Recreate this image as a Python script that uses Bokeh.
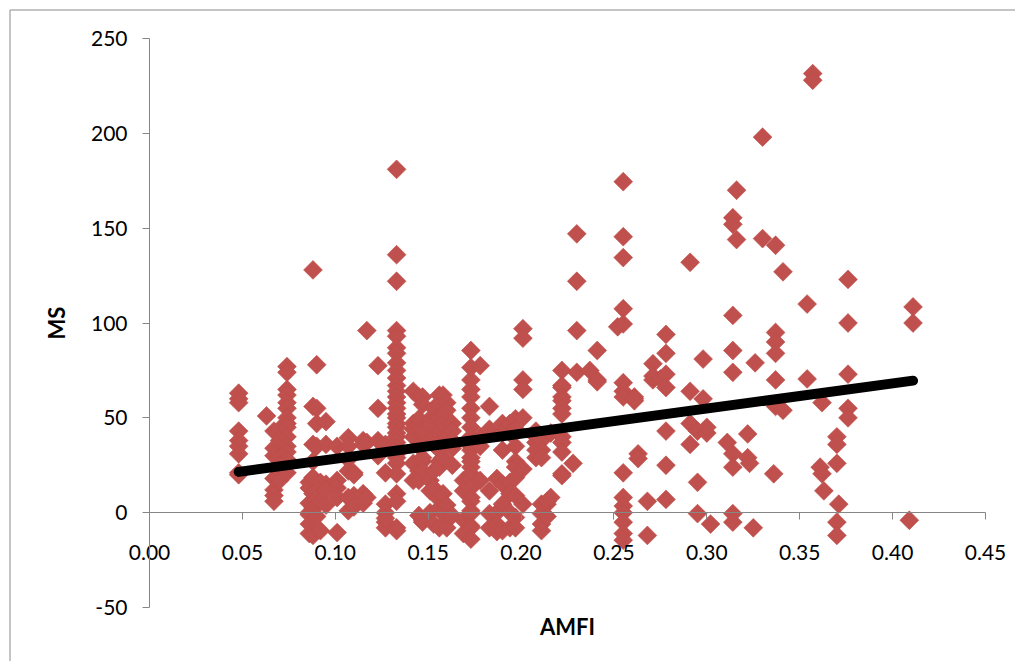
import numpy as np
from bokeh.plotting import figure
from bokeh.models import FixedTicker, NumeralTickFormatter, PrintfTickFormatter, Range1d
from bokeh.embed import file_html
from bokeh.resources import INLINE

# ---- data ----
amfi_levels = [0.048, 0.063, 0.067, 0.070, 0.074, 0.086, 0.088, 0.090, 0.092, 0.095,
               0.101, 0.107, 0.110, 0.115, 0.117, 0.123, 0.127, 0.133, 0.142, 0.145,
               0.147, 0.151, 0.153, 0.156, 0.158, 0.160, 0.163, 0.169, 0.173, 0.178,
               0.183, 0.187, 0.190, 0.194, 0.197, 0.201, 0.208, 0.211, 0.214, 0.216,
               0.222, 0.228, 0.230, 0.237, 0.241, 0.252, 0.255, 0.261, 0.263, 0.268,
               0.271, 0.275, 0.278, 0.291, 0.295, 0.298, 0.300, 0.302, 0.311, 0.314,
               0.316, 0.322, 0.323, 0.325, 0.326, 0.330, 0.336, 0.337, 0.341, 0.354,
               0.357, 0.361, 0.362, 0.363, 0.370, 0.371, 0.376, 0.409, 0.411]

ms_groups = [
    [63, 60, 58, 43, 38, 35, 31, 21, 20],
    [51],
    [43, 34, 30, 18, 12, 9, 6],
    [44, 38, 29, 25, 22, 17],
    [77, 74, 65, 62, 58, 55, 50, 47, 45, 40, 35, 32, 28, 21],
    [16, 13, 5, 0, -1, -6, -11],
    [128, 56, 36, 27, 18.5, 10, 3, -12],
    [78, 55, 47, 35, 7, 4, -2],
    [16, 6, -9.5],
    [48, 36, 15, 4, 12],
    [35, 17, 13, 8, -10.5],
    [39.5, 35, 28, 22, 8, 1],
    [21, 20, 9, 6, 3],
    [38, 36, 10, 5],
    [96, 37, 8],
    [77.5, 55, 38, 30],
    [36, 21, 4.5, 0, -5, -8, -3],
    [181, 136, 122, 96, 93, 87, 84, 79, 75, 71, 67, 64, 61, 58, 55, 52, 50, 47, 45,
     42, 40, 37, 34, 31, 29, 26, 20.5, 10, 6, -8, -9.5],
    [64, 47, 44, 40, 26, 17],
    [61, 49.5, 43, 35, 22, 17, -1.5],
    [61, 57, 43, 27, 29, 22, -5, -4],
    [49.5, 45, 38, 17, 11.5, 0],
    [55, 36, 22, 13, -6],
    [62, 57, 50, 43, 33, 27, 24, 7, 2.5, -8],
    [62, 52, 47, 29, 10, -0.5],
    [58, 54, 40, 4, -8],
    [47, 43, 38, 34, 25, -1.5],
    [17, 11.5, -4, -11],
    [85.5, 76.5, 70, 65, 61, 55, 50, 45, 40, 35, 33, 29, 27, 24, 20.5, 18, 13, 8, 6,
     1, -0.5, -7, -8, -14],
    [77.5, 40, 35, 17],
    [56, 44, 11.5, -0.5, -8],
    [18, 0, -6, -10],
    [47, 42, 33, 15, 4.5, -9.5],
    [47, 42, 16, 10, 0, -8],
    [49.5, 44, 35, 27, 24, 18.5, 9, -2.5, -8],
    [97, 92, 70, 65, 50, 23, 4.5],
    [43, 40, 37, 33, 29],
    [38, 33, 29, 4.5, -0.5, -6, -9.5],
    [4.5, 6, -2],
    [42, 8],
    [75, 67, 66, 61, 59, 55, 52, 40, 37, 32, 20.5, 19.5],
    [26],
    [147, 122, 96, 74],
    [75],
    [85.5, 70, 69],
    [98],
    [174.5, 145.5, 134.5, 107.5, 99.5, 68.5, 64, 61, 21, 8, 3.5, 0, -5, -11, -14.5],
    [61, 59, 60],
    [31, 28.5],
    [6, -12],
    [78.5, 70, 72],
    [70.5],
    [94, 84, 73, 66, 43, 25, 7],
    [132, 64, 47, 36],
    [43, 16, -0.5],
    [81, 60],
    [42, 45],
    [-6],
    [37],
    [155.5, 152, 104, 85.5, 74, 31, 24, -0.5, -5],
    [170, 144],
    [41.5, 29],
    [26],
    [-8],
    [79],
    [198, 144.5],
    [20.5],
    [141, 95, 90, 84, 70, 56],
    [127, 54],
    [110, 70.5],
    [231.5, 228],
    [24],
    [58, 20.5],
    [11.5],
    [40, 36, 26, -5, -12],
    [4.5],
    [123, 100, 73, 55, 50],
    [-4],
    [108.5, 100],
]

trend_x = [0.048, 0.411]
trend_y = [21.5, 69.6]

x_ticks = [0.0, 0.05, 0.10, 0.15, 0.20, 0.25, 0.30, 0.35, 0.40, 0.45]
y_ticks = [-50, 0, 50, 100, 150, 200, 250]

amfi = np.repeat(amfi_levels, [len(g) for g in ms_groups])
ms = np.concatenate([np.asarray(g, dtype=float) for g in ms_groups])

# ---- geometry: the frame fills the whole canvas, axes cross inside it ----
W, H = 1015, 661
AX_L, AX_R = 149, 985      # pixel of x = 0 and x = 0.45
AX_T, AX_B = 38, 607       # pixel of y = 250 and y = -50
kx = 0.45 / (AX_R - AX_L)
ky = 300.0 / (AX_B - AX_T)
x_lo, x_hi = -AX_L * kx, 0.45 + (W - AX_R) * kx
y_hi, y_lo = 250 + AX_T * ky, -50 - (H - AX_B) * ky

AXIS = "#868686"
FONT = "Lato"

p = figure(width=W, height=H, output_backend="svg", toolbar_location=None,
           x_range=Range1d(x_lo, x_hi), y_range=Range1d(y_lo, y_hi),
           min_border_left=0, min_border_right=0, min_border_top=0,
           min_border_bottom=0)
p.outline_line_color = None
p.grid.visible = False
p.background_fill_color = "white"
p.border_fill_color = "white"

# chart-area border (top and left edges, the rest lies outside the window)
bx = x_lo + 9.5 * kx
by = y_hi - 9.5 * ky
p.segment(x0=[bx, bx], y0=[by, by], x1=[x_hi, bx], y1=[by, y_lo],
          line_color="#8a8a8a", line_width=1)

# x axis crossing at MS = 0
xa = p.xaxis[0]
xa.fixed_location = 0
xa.bounds = (0, 0.45)
xa.ticker = FixedTicker(ticks=x_ticks)
xa.formatter = NumeralTickFormatter(format="0.00")
xa.major_tick_in = 0
xa.major_tick_out = 7
xa.minor_tick_in = 0
xa.minor_tick_out = 0
xa.axis_line_color = AXIS
xa.major_tick_line_color = AXIS
xa.major_label_standoff = 25
xa.major_label_text_font = FONT
xa.major_label_text_font_size = "21px"
xa.major_label_text_color = "black"
xa.axis_label = "AMFI"
xa.axis_label_standoff = 50
xa.axis_label_text_font = FONT
xa.axis_label_text_font_size = "22px"
xa.axis_label_text_font_style = "bold"
xa.axis_label_text_color = "black"

# y axis at AMFI = 0
ya = p.yaxis[0]
ya.fixed_location = 0
ya.bounds = (-50, 250)
ya.ticker = FixedTicker(ticks=y_ticks)
ya.formatter = PrintfTickFormatter(format="%d")
ya.major_tick_in = 0
ya.major_tick_out = 7
ya.minor_tick_in = 0
ya.minor_tick_out = 0
ya.axis_line_color = AXIS
ya.major_tick_line_color = AXIS
ya.major_label_standoff = 15
ya.major_label_text_font = FONT
ya.major_label_text_font_size = "21px"
ya.major_label_text_color = "black"
ya.axis_label = "MS"
ya.axis_label_standoff = 18
ya.axis_label_text_font = FONT
ya.axis_label_text_font_size = "22px"
ya.axis_label_text_font_style = "bold"
ya.axis_label_text_color = "black"

p.scatter(amfi, ms, marker="square", size=13.3, angle=np.pi / 4,
          fill_color="#C0504D", line_color="#BE4B48", line_width=0.6)

p.line(trend_x, trend_y, line_color="black", line_width=10, line_cap="round")

open("out.html", "w").write(file_html(p, INLINE))
